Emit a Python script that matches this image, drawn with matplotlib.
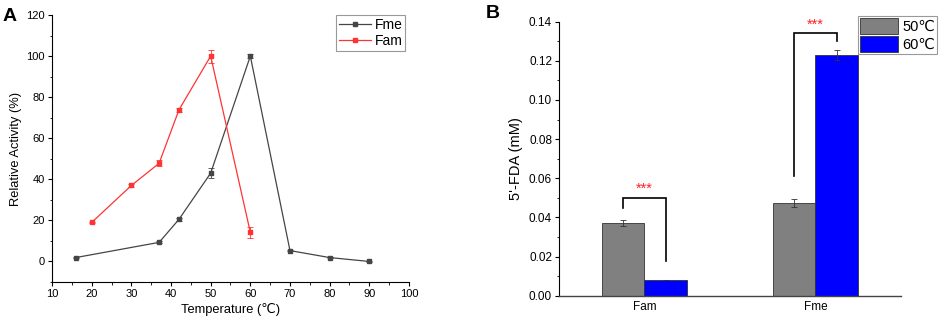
import matplotlib
matplotlib.use("Agg")
import matplotlib.pyplot as plt
from matplotlib.ticker import MultipleLocator, FormatStrFormatter
from matplotlib.lines import Line2D
import numpy as np

plt.rcParams['font.family'] = ['Liberation Sans', 'DejaVu Sans']

# Panel A data
fme_temp = [16, 37, 42, 50, 60, 70, 80, 90]
fme_act = [1.9, 9.3, 20.5, 43.0, 100.0, 5.3, 1.9, 0.0]
fme_err = [0.3, 0.5, 0.6, 2.5, 1.0, 0.4, 0.3, 0.3]
fam_temp = [20, 30, 37, 42, 50, 60]
fam_act = [19.0, 37.0, 47.8, 73.8, 100.0, 14.2]
fam_err = [0.4, 0.5, 1.5, 1.0, 3.2, 2.6]

# Panel B data
categories = ["Fam", "Fme"]
fda_50 = [0.037, 0.0475]
fda_50_err = [0.0015, 0.0020]
fda_60 = [0.008, 0.123]
fda_60_err = [0.0002, 0.0025]
series_labels = ["50\u2103", "60\u2103"]

fig = plt.figure(figsize=(9.41, 3.22), dpi=100)

# ---------- Panel A ----------
axA = fig.add_axes([0.0553, 0.1242, 0.3793, 0.8292])
c_fme = '#454545'
c_fam = '#ff3333'
axA.errorbar(fme_temp, fme_act, yerr=fme_err, color=c_fme, marker='s', ms=2.5,
             lw=0.9, capsize=2, elinewidth=0.6, capthick=0.6)
axA.errorbar(fam_temp, fam_act, yerr=fam_err, color=c_fam, marker='s', ms=2.5,
             lw=0.9, capsize=2, elinewidth=0.6, capthick=0.6)
axA.set_xlim(10, 100)
axA.set_ylim(-10, 120)
axA.xaxis.set_major_locator(MultipleLocator(10))
axA.xaxis.set_minor_locator(MultipleLocator(5))
axA.yaxis.set_major_locator(MultipleLocator(20))
axA.yaxis.set_minor_locator(MultipleLocator(10))
for s in ['top', 'right']:
    axA.spines[s].set_visible(False)
for s in ['left', 'bottom']:
    axA.spines[s].set_linewidth(0.8)
axA.tick_params(which='major', length=3, width=0.8, labelsize=8, pad=2)
axA.tick_params(which='minor', length=1.8, width=0.6)
axA.set_xlabel('Temperature (\u2103)', fontsize=9.3, labelpad=3)
axA.set_ylabel('Relative Activity (%)', fontsize=9.3, labelpad=3)
handlesA = [Line2D([], [], color=c_fme, marker='s', ms=2.5, lw=0.9),
            Line2D([], [], color=c_fam, marker='s', ms=2.5, lw=0.9)]
legA = axA.legend(handlesA, ['Fme', 'Fam'], loc='upper right', bbox_to_anchor=(0.99, 1.0),
                  fontsize=10, frameon=True, fancybox=False, edgecolor='#808080',
                  handlelength=2.3, handletextpad=0.3, borderpad=0.2,
                  labelspacing=0.15, borderaxespad=0.0)
legA.get_frame().set_linewidth(0.8)
fig.text(0.003, 0.975, 'A', fontsize=14, fontweight='bold', va='top', ha='left')

# ---------- Panel B ----------
axB = fig.add_axes([0.594, 0.0817, 0.3635, 0.8509])
x = np.arange(1, len(categories) + 1)
w = 0.25
axB.bar(x - w / 2, fda_50, w, yerr=fda_50_err, color='#808080', edgecolor='#333333',
        linewidth=0.6, capsize=2.5, error_kw=dict(elinewidth=0.6, capthick=0.6, ecolor='#333333'),
        label=series_labels[0])
axB.bar(x + w / 2, fda_60, w, yerr=fda_60_err, color='#0000ff', edgecolor='#333333',
        linewidth=0.6, capsize=2.5, error_kw=dict(elinewidth=0.6, capthick=0.6, ecolor='#333333'),
        label=series_labels[1])
axB.set_xlim(0.5, 2.5)
axB.set_ylim(0, 0.14)
axB.set_xticks(x)
axB.set_xticklabels(categories)
axB.yaxis.set_major_locator(MultipleLocator(0.02))
axB.yaxis.set_minor_locator(MultipleLocator(0.01))
axB.yaxis.set_major_formatter(FormatStrFormatter('%.2f'))
for s in ['top', 'right']:
    axB.spines[s].set_visible(False)
axB.spines['left'].set_linewidth(0.8)
axB.spines['bottom'].set_linewidth(1.0)
axB.spines['bottom'].set_color('#444444')
axB.tick_params(axis='y', which='major', length=3, width=0.8, labelsize=8.5, pad=2)
axB.tick_params(axis='y', which='minor', length=1.8, width=0.6)
axB.tick_params(axis='x', length=0, labelsize=8.5, pad=4)
axB.set_ylabel("5'-FDA (mM)", fontsize=10.5, labelpad=4)

# significance brackets
brackets = [
    (x[0] - w / 2, x[0] + w / 2, 0.0448, 0.0500, 0.0177),
    (x[1] - w / 2, x[1] + w / 2, 0.0613, 0.1340, 0.1300),
]
for xl, xr, yl, ytop, yr in brackets:
    axB.plot([xl, xl, xr, xr], [yl, ytop, ytop, yr], color='black', lw=1.2,
             solid_joinstyle='miter')
    axB.text((xl + xr) / 2, ytop + 0.001, '***', color='#ff2020', fontsize=10.5,
             ha='center', va='bottom')

legB = axB.legend(loc='upper right', bbox_to_anchor=(1.105, 1.02), fontsize=10.5,
                  frameon=True, fancybox=False, edgecolor='#808080',
                  handlelength=2.6, handleheight=1.3, handletextpad=0.25,
                  borderpad=0.15, labelspacing=0.1, borderaxespad=0.0)
legB.get_frame().set_linewidth(0.8)
fig.text(0.516, 0.985, 'B', fontsize=14, fontweight='bold', va='top', ha='left')

fig.savefig('out.png', dpi=100)
